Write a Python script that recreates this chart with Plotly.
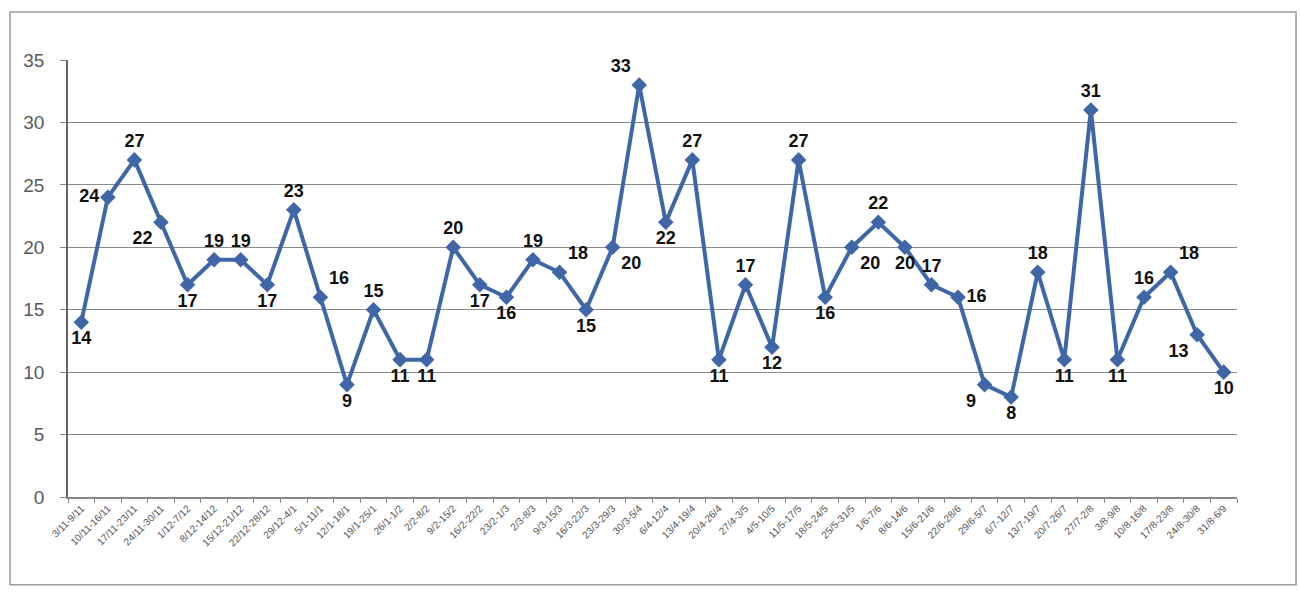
import plotly.graph_objects as go

weeks = ["3/11-9/11", "10/11-16/11", "17/11-23/11", "24/11-30/11", "1/12-7/12",
         "8/12-14/12", "15/12-21/12", "22/12-28/12", "29/12-4/1", "5/1-11/1",
         "12/1-18/1", "19/1-25/1", "26/1-1/2", "2/2-8/2", "9/2-15/2",
         "16/2-22/2", "23/2-1/3", "2/3-8/3", "9/3-15/3", "16/3-22/3",
         "23/3-29/3", "30/3-5/4", "6/4-12/4", "13/4-19/4", "20/4-26/4",
         "27/4-3/5", "4/5-10/5", "11/5-17/5", "18/5-24/5", "25/5-31/5",
         "1/6-7/6", "8/6-14/6", "15/6-21/6", "22/6-28/6", "29/6-5/7",
         "6/7-12/7", "13/7-19/7", "20/7-26/7", "27/7-2/8", "3/8-9/8",
         "10/8-16/8", "17/8-23/8", "24/8-30/8", "31/8-6/9"]

counts = [14, 24, 27, 22, 17, 19, 19, 17, 23, 16,
          9, 15, 11, 11, 20, 17, 16, 19, 18, 15,
          20, 33, 22, 27, 11, 17, 12, 27, 16, 20,
          22, 20, 17, 16, 9, 8, 18, 11, 31, 11,
          16, 18, 13, 10]

label_pos = ["bottom center", "middle left", "top center", "bottom left", "bottom center",
             "top center", "top center", "bottom center", "top center", "top right",
             "bottom center", "top center", "bottom center", "bottom center", "top center",
             "bottom center", "bottom center", "top center", "top right", "bottom center",
             "bottom right", "top left", "bottom center", "top center", "bottom center",
             "top center", "bottom center", "top center", "bottom center", "bottom right",
             "top center", "bottom center", "top center", "middle right", "bottom left",
             "bottom center", "top center", "bottom center", "top center", "bottom center",
             "top center", "top right", "bottom left", "bottom center"]

fig = go.Figure()
fig.add_trace(go.Scatter(
    x=weeks, y=counts, mode="lines+markers+text",
    line=dict(color="#3F67A8", width=4),
    marker=dict(symbol="diamond", size=12, color="#3F67A8"),
    text=[str(v) for v in counts], textposition=label_pos,
    textfont=dict(family="Liberation Sans", size=18, color="#111111", weight="bold"),
    cliponaxis=False, showlegend=False, hoverinfo="skip",
))

fig.update_layout(
    width=1300, height=593,
    margin=dict(l=68, r=63, t=60, b=96),
    paper_bgcolor="white", plot_bgcolor="white",
    font=dict(family="Liberation Sans", color="#555555"),
    xaxis=dict(type="category", range=[-0.5, 43.5], tickangle=-45,
               tickfont=dict(size=10, color="#555555"),
               showgrid=False, showline=True, linecolor="#888888", linewidth=1.5,
               ticks="outside", ticklen=4, tickcolor="#888888", tickson="boundaries",
               automargin=False),
    yaxis=dict(range=[0, 35], dtick=5, tickfont=dict(size=19, color="#5a5a5a"),
               showgrid=True, gridcolor="#8a8a8a", gridwidth=1,
               showline=True, linecolor="#666666", linewidth=1.5,
               ticks="outside", ticklen=6, tickcolor="#888888", zeroline=False,
               ticklabelstandoff=12, automargin=False),
    shapes=[dict(type="rect", xref="paper", yref="paper",
                 x0=-0.0496, x1=1.0505, y0=-0.201, y1=1.11,
                 line=dict(color="#9a9a9a", width=1.5), fillcolor="rgba(0,0,0,0)")],
)

fig.write_html("out.html", config={"displayModeBar": False},
               post_script="document.body.style.margin='0';document.body.style.overflow='hidden';")
